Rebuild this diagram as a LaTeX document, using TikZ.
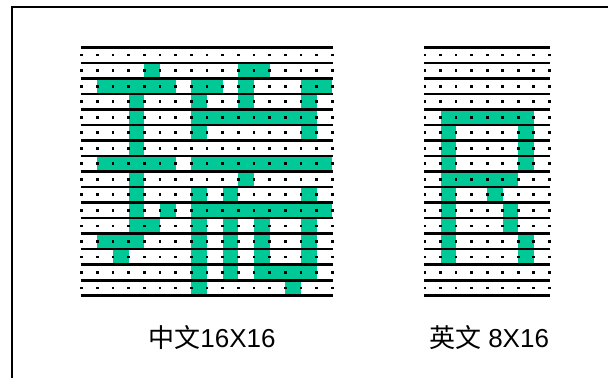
\documentclass[tikz,border=0pt]{standalone}
\usepackage{fontspec}
\setmainfont{Liberation Sans}
\newfontfamily\cjk{Noto Sans CJK SC}
\definecolor{glyphgreen}{RGB}{0,200,150}

\begin{document}
\begin{tikzpicture}[
        x=0.5pt, y=-0.5pt,
        cell/.style={fill=glyphgreen},
        rule/.style={line width=1.3pt},
        dot/.style={fill=black},
        every node/.style={font=\fontsize{13}{15}\selectfont}
    ]
    \useasboundingbox (0,0) rectangle (608,378);

    % Frame
    \draw[line width=1pt] (11.5,378) -- (11.5,7.5) -- (608,7.5);

    % Chinese glyph 16x16
    \begin{scope}[shift={(81.7,47.3)}]
      \foreach \r/\cols in {1/{4,10,11}, 2/{1,2,3,4,5,7,8,10,14,15},
          3/{3,7,10,14}, 4/{3,7,8,9,10,11,12,13,14}, 5/{3,7,14}, 6/{3},
          7/{1,2,3,4,5,7,8,9,10,11,12,13,14,15}, 8/{3,10}, 9/{3,7,9,14},
          10/{3,5,7,8,9,10,11,12,13,14,15}, 11/{3,4,7,9,11,14},
          12/{1,2,3,7,9,11,14}, 13/{2,7,9,11,14}, 14/{7,9,11,12,13,14},
          15/{7,13}}
        \foreach \c in \cols
          \fill[cell] (\c*15.66,\r*15.53) rectangle ++(15.66,15.53);
      \foreach \r in {0,...,16}
        \draw[rule] (-1,\r*15.53) -- (16*15.66+1,\r*15.53);
      \foreach \r in {0,...,15}
        \foreach \c in {0,...,16}
          \fill[dot] (\c*15.66-1.4,\r*15.53+6.4) rectangle ++(2.8,2.8);
    \end{scope}

    % English glyph 8x16
    \begin{scope}[shift={(425,47.3)}]
      \foreach \r/\cols in {4/{1,2,3,4,5,6}, 5/{1,6}, 6/{1,6}, 7/{1,6},
          8/{1,2,3,4,5}, 9/{1,4}, 10/{1,5}, 11/{1,5}, 12/{1,6}, 13/{1,6}}
        \foreach \c in \cols
          \fill[cell] (\c*15.54,\r*15.53) rectangle ++(15.54,15.53);
      \foreach \r in {0,...,16}
        \draw[rule] (-1,\r*15.53) -- (8*15.54+1,\r*15.53);
      \foreach \r in {0,...,15}
        \foreach \c in {0,...,8}
          \fill[dot] (\c*15.54-1.4,\r*15.53+6.4) rectangle ++(2.8,2.8);
    \end{scope}

    % Labels
    \node (zhlabel) at (212,338) {{\cjk 中文}16X16};
    \node (enlabel) at (489,338) {{\cjk 英文} 8X16};
\end{tikzpicture}
\end{document}
